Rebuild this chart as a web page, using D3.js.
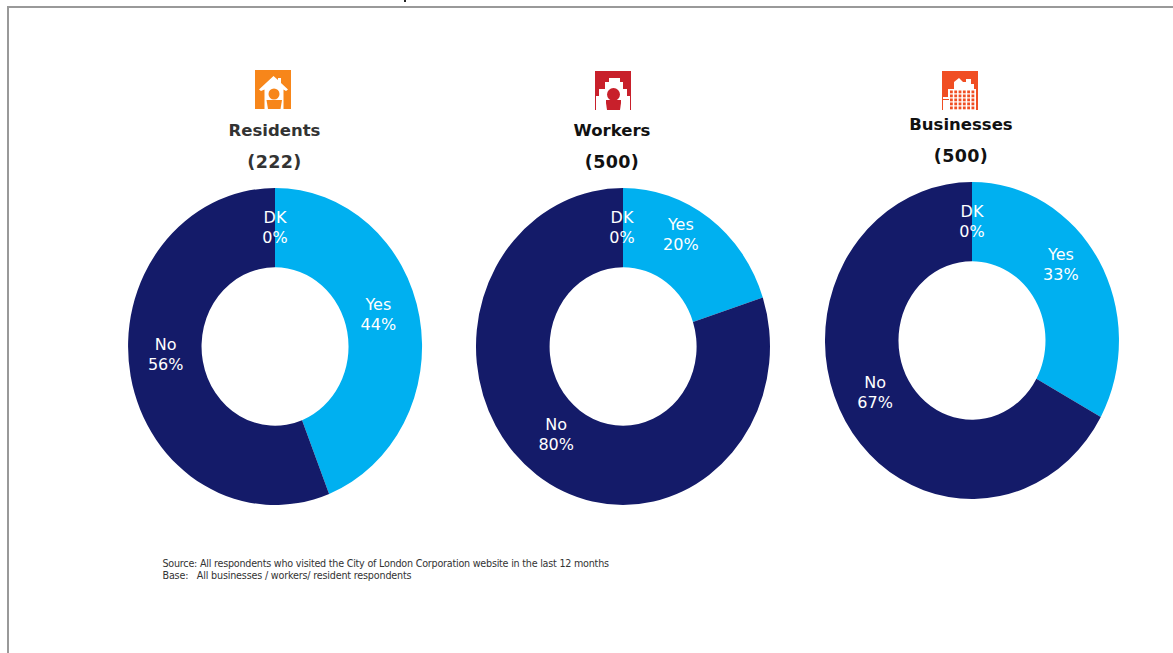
<!DOCTYPE html>
<html><head><meta charset="utf-8">
<script src="https://cdn.jsdelivr.net/npm/d3@7"></script>
<style>html,body{margin:0;padding:0;background:#fff}svg{display:block}text{font-family:"DejaVu Sans",sans-serif}</style>
</head><body><svg id="c" width="1173" height="653"></svg>
<script>
const categories = ["Yes", "No", "DK"];
const groups = ["Residents", "Workers", "Businesses"];
const bases = ["(222)", "(500)", "(500)"];
const residentsValues = [44, 56, 0];
const workersValues = [20, 80, 0];
const businessesValues = [33, 67, 0];
const sourceLines = ["Source: All respondents who visited the City of London Corporation website in the last 12 months",
                     "Base:   All businesses / workers/ resident respondents"];

const colors = d3.scaleOrdinal(categories, ["#00b0f0", "#141b69", "#141b69"]);
const svg = d3.select("#c");

// frame
svg.append("path").attr("d","M8,653V7H1173").attr("fill","none").attr("stroke","#999").attr("stroke-width",2);
svg.append("rect").attr("x",404).attr("y",0).attr("width",2).attr("height",2).attr("fill","#222");

const layout = [
  {cx:275, cy:346.5, titleX:274.5, titleY:136, baseY:168, titleColor:"#333333", nudge:{Yes:[-5,-10],No:[-1,-15],DK:[0,-1]}, icon:[255,70], iconColor:"#f7861a", kind:"house"},
  {cx:623, cy:346.5, titleX:612, titleY:136, baseY:168, titleColor:"#111111", nudge:{Yes:[-7,-16],No:[-2,-9],DK:[-1,-1]}, icon:[595,71], iconColor:"#c8202b", kind:"work"},
  {cx:972, cy:340.5, titleX:961, titleY:130, baseY:162, titleColor:"#111111", nudge:{Yes:[-6,-16],No:[-2,-9],DK:[0,-1]}, icon:[942,71], iconColor:"#f04e23", kind:"biz"}
];
const allValues = [residentsValues, workersValues, businessesValues];

const pie = d3.pie().sort(null).value(d => d.value);
// unit ring, stretched to the slightly oval shape of the reference
const rx = 147, ry = 158.5, inner = 0.5;
const arc = d3.arc().innerRadius(inner).outerRadius(1);
const labelArc = d3.arc().innerRadius(0.75).outerRadius(0.75);

allValues.forEach((vals, i) => {
  const L = layout[i];
  const rows = categories.map((c, k) => ({cat:c, value:vals[k]}));
  const arcs = pie(rows);
  const g = svg.append("g").attr("transform", `translate(${L.cx},${L.cy})`);
  g.append("g").attr("transform", `scale(${rx},${ry})`)
    .selectAll("path").data(arcs).join("path")
    .attr("d", arc).attr("fill", d => colors(d.data.cat));
  const lab = g.selectAll("text").data(arcs).join("text")
    .attr("transform", d => {
      const [x,y] = labelArc.centroid(d), n = L.nudge[d.data.cat];
      return `translate(${x*rx+n[0]},${y*ry+n[1]})`;
    })
    .attr("text-anchor","middle").attr("fill","#fff").attr("font-size",16);
  lab.append("tspan").attr("x",0).attr("y",-4).text(d => d.data.cat);
  lab.append("tspan").attr("x",0).attr("y",16).text(d => d.data.value + "%");

  svg.append("text").attr("x",L.titleX).attr("y",L.titleY).attr("text-anchor","middle")
    .attr("font-weight","bold").attr("font-size",16.5).attr("fill",L.titleColor).text(groups[i]);
  svg.append("text").attr("x",L.titleX).attr("y",L.baseY).attr("text-anchor","middle")
    .attr("font-weight","bold").attr("font-size",17.5).attr("letter-spacing",0.4).attr("fill",L.titleColor).text(bases[i]);

  // icons
  const ic = svg.append("g").attr("transform",`translate(${L.icon[0]},${L.icon[1]})`);
  ic.append("rect").attr("width",36).attr("height",39).attr("fill",L.iconColor);
  if (L.kind==="house") {
    ic.append("path").attr("fill","#fff").attr("d","M18.5,6L23,10V8H26V13L33,19.5L31,21L28.5,19.5V39H9.5V19.5L6,21L4,19.5Z");
    ic.append("circle").attr("cx",19).attr("cy",24).attr("r",5.5).attr("fill",L.iconColor);
    ic.append("path").attr("fill",L.iconColor).attr("d","M11.5,30H27L25.5,39H13Z");
  } else if (L.kind==="work") {
    ic.append("path").attr("fill","#fff").attr("d","M1,39V25H4V18H10V11H14V7H25V11H28V18H32V25H35V39Z");
    ic.append("circle").attr("cx",18.5).attr("cy",23.5).attr("r",6.5).attr("fill",L.iconColor);
    ic.append("path").attr("fill",L.iconColor).attr("d","M11,29H26V32L25,39H12L11,32Z");
  } else {
    ic.append("path").attr("fill","#fff").attr("d","M1,39V26H6V18H12V11L17,7L21,11H24V8H29V13H32V18H34V39Z");
    d3.range(5).forEach(r => d3.range(6).forEach(c => ic.append("rect")
      .attr("x",8+c*4.3).attr("y",19.5+r*4).attr("width",2.8).attr("height",2.8).attr("fill",L.iconColor)));
    ic.append("rect").attr("x",1).attr("y",28).attr("width",6).attr("height",1).attr("fill",L.iconColor);
  }
});

svg.selectAll("text.src").data(sourceLines).join("text").attr("class","src")
  .attr("x",162.5).attr("y",(d,i)=>567+i*11.5).attr("font-size",9.6).attr("fill","#333")
  .attr("textLength",(d,i)=>i?249:446.5).attr("lengthAdjust","spacing")
  .attr("xml:space","preserve").style("white-space","pre").text(d=>d);
</script></body></html>
